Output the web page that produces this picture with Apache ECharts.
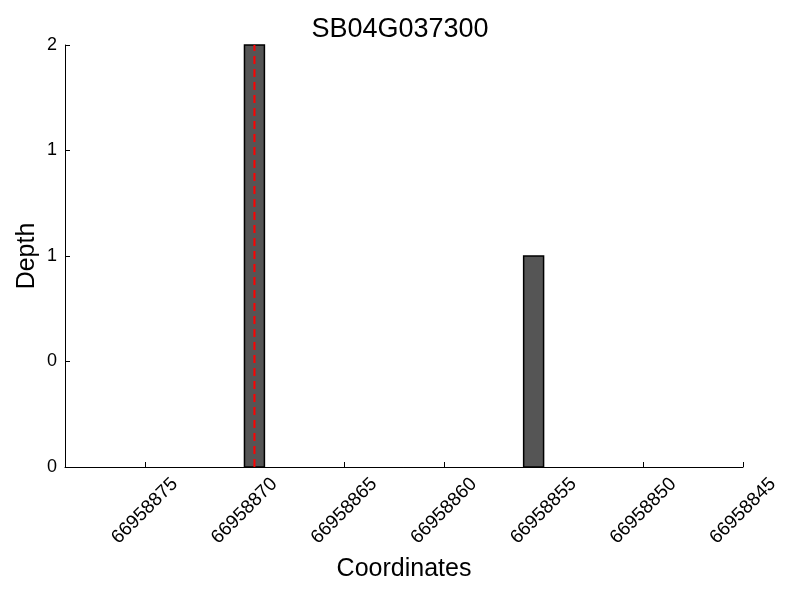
<!DOCTYPE html>
<html>
<head>
<meta charset="utf-8">
<script src="https://cdn.jsdelivr.net/npm/echarts@6/dist/echarts.min.js"></script>
<style>html,body{margin:0;padding:0;background:#fff}#c{width:800px;height:600px}</style>
</head>
<body>
<div id="c"></div>
<script>
// Data
const titleText = "SB04G037300";
const binCenters = [66958869.5, 66958855.5];
const depths = [2, 1];
const binWidth = 1;
const markerPos = 66958869.5;
const xMin = 66958845, xMax = 66958879;
const yTicks = [0, 0.5, 1, 1.5, 2];

const FONT = "Liberation Sans, Arial, sans-serif";
const chart = echarts.init(document.getElementById('c'));
const barData = binCenters.map((c, i) => [c, depths[i]]);

chart.setOption({
  animation: false,
  backgroundColor: '#fff',
  title: {
    text: titleText, left: 'center', top: 11,
    textStyle: {fontFamily: FONT, fontSize: 27, fontWeight: 'normal', color: '#000'}
  },
  grid: {left: 65, right: 57, top: 45, bottom: 133},
  xAxis: {
    type: 'value', min: xMin, max: xMax, interval: 5, inverse: true,
    name: 'Coordinates', nameLocation: 'middle', nameGap: 90,
    nameTextStyle: {fontFamily: FONT, fontSize: 25, color: '#000'},
    axisLine: {show: true, lineStyle: {color: '#000', width: 1}},
    axisTick: {show: true, inside: true, length: 5, lineStyle: {color: '#000'}},
    splitLine: {show: false},
    axisLabel: {
      rotate: 45, fontFamily: FONT, fontSize: 19, color: '#000', margin: 44,
      align: 'center', verticalAlign: 'middle',
      showMaxLabel: false,
      formatter: v => (Math.round(v) % 5 === 0 ? String(Math.round(v)) : '')
    }
  },
  yAxis: {
    type: 'value', min: yTicks[0], max: yTicks[yTicks.length - 1], interval: 0.5,
    name: 'Depth', nameLocation: 'middle', nameGap: 25, nameMoveOverlap: false,
    nameTextStyle: {fontFamily: FONT, fontSize: 25, color: '#000'},
    axisLine: {show: true, lineStyle: {color: '#000', width: 1}},
    axisTick: {show: true, inside: true, length: 5, lineStyle: {color: '#000'}},
    splitLine: {show: false},
    axisLabel: {fontFamily: FONT, fontSize: 18, color: '#000', margin: 8,
      formatter: v => String(Math.floor(v))}
  },
  series: [{
    type: 'custom',
    data: barData,
    renderItem: (params, api) => {
      const c = api.value(0), v = api.value(1);
      const p1 = api.coord([c - binWidth / 2, v]);
      const p2 = api.coord([c + binWidth / 2, 0]);
      const x = Math.min(p1[0], p2[0]), w = Math.abs(p2[0] - p1[0]);
      return {
        type: 'rect',
        shape: {x: x, y: p1[1], width: w, height: p2[1] - p1[1]},
        style: {fill: '#555555', stroke: '#000', lineWidth: 1.5}
      };
    },
    encode: {x: 0, y: 1},
    z: 2
  }, {
    type: 'line',
    data: [[markerPos, yTicks[0]], [markerPos, yTicks[yTicks.length - 1]]],
    symbol: 'none',
    lineStyle: {color: '#ff0000', width: 2, type: [8, 5]},
    z: 3
  }]
});
</script>
</body>
</html>
